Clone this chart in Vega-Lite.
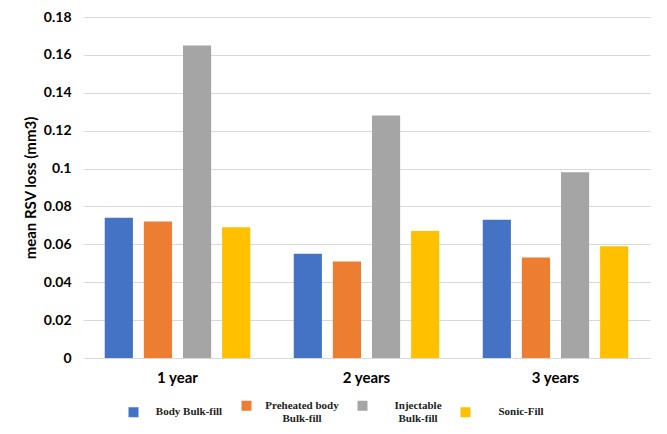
{
  "$schema": "https://vega.github.io/schema/vega-lite/v6.json",
  "width": 567,
  "height": 341,
  "autosize": "none",
  "padding": {"left": 83, "top": 17, "right": 17, "bottom": 76},
  "background": "white",
  "data": {
    "values": [
      {"period": "1 year", "material": "Body Bulk-fill", "loss": 0.074},
      {"period": "1 year", "material": "Preheated body Bulk-fill", "loss": 0.072},
      {"period": "1 year", "material": "Injectable Bulk-fill", "loss": 0.165},
      {"period": "1 year", "material": "Sonic-Fill", "loss": 0.069},
      {"period": "2 years", "material": "Body Bulk-fill", "loss": 0.055},
      {"period": "2 years", "material": "Preheated body Bulk-fill", "loss": 0.051},
      {"period": "2 years", "material": "Injectable Bulk-fill", "loss": 0.128},
      {"period": "2 years", "material": "Sonic-Fill", "loss": 0.067},
      {"period": "3 years", "material": "Body Bulk-fill", "loss": 0.073},
      {"period": "3 years", "material": "Preheated body Bulk-fill", "loss": 0.053},
      {"period": "3 years", "material": "Injectable Bulk-fill", "loss": 0.098},
      {"period": "3 years", "material": "Sonic-Fill", "loss": 0.059}
    ]
  },
  "mark": {"type": "bar"},
  "encoding": {
    "x": {
      "field": "period",
      "type": "nominal",
      "sort": null,
      "scale": {"paddingInner": 0.23, "paddingOuter": 0.115},
      "axis": {
        "title": null,
        "labelAngle": 0,
        "labelFont": "Lato",
        "labelFontWeight": "bold",
        "labelFontSize": 15,
        "labelColor": "#000000",
        "labelPadding": 12,
        "domain": false,
        "ticks": false
      }
    },
    "xOffset": {
      "field": "material",
      "type": "nominal",
      "sort": ["Body Bulk-fill", "Preheated body Bulk-fill", "Injectable Bulk-fill", "Sonic-Fill"],
      "scale": {"paddingInner": 0.28, "paddingOuter": 0}
    },
    "y": {
      "field": "loss",
      "type": "quantitative",
      "scale": {"domain": [0, 0.18], "nice": false},
      "axis": {
        "title": "mean RSV loss (mm3)",
        "titleFont": "Lato",
        "titleFontWeight": "bold",
        "titleFontSize": 15,
        "titleColor": "#000000",
        "titlePadding": 5,
        "values": [0, 0.02, 0.04, 0.06, 0.08, 0.1, 0.12, 0.14, 0.16, 0.18],
        "labelExpr": "datum.value == 0 ? '0' : format(datum.value, '.2~f')",
        "labelFont": "Lato",
        "labelFontWeight": "bold",
        "labelFontSize": 14,
        "labelColor": "#000000",
        "labelPadding": 12,
        "domain": false,
        "ticks": false,
        "grid": true,
        "gridColor": "#d9d9d9",
        "gridWidth": 1
      }
    },
    "color": {
      "field": "material",
      "type": "nominal",
      "sort": ["Body Bulk-fill", "Preheated body Bulk-fill", "Injectable Bulk-fill", "Sonic-Fill"],
      "scale": {
        "domain": ["Body Bulk-fill", "Preheated body Bulk-fill", "Injectable Bulk-fill", "Sonic-Fill"],
        "range": ["#4472C4", "#ED7D31", "#A5A5A5", "#FFC000"]
      },
      "legend": {
        "title": null,
        "orient": "none",
        "direction": "horizontal",
        "columns": 4,
        "legendX": 45,
        "legendY": 383,
        "symbolType": "square",
        "symbolSize": 100,
        "symbolStrokeWidth": 0,
        "labelFont": "Liberation Serif",
        "labelFontWeight": "bold",
        "labelFontSize": 11,
        "labelColor": "#222222",
        "labelAlign": "center",
        "labelOffset": 50,
        "labelLimit": 200,
        "columnPadding": 18,
        "labelExpr": "datum.label == 'Preheated body Bulk-fill' ? ['Preheated body', 'Bulk-fill'] : datum.label == 'Injectable Bulk-fill' ? ['Injectable', 'Bulk-fill'] : datum.label"
      }
    }
  },
  "config": {
    "view": {"stroke": null}
  }
}
